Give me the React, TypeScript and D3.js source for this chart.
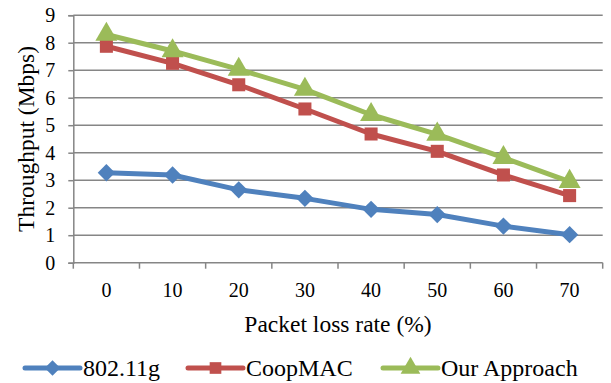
import * as d3 from 'd3'
import { useRef, useEffect } from 'react'

const categories = ['0', '10', '20', '30', '40', '50', '60', '70']
const yTicks = [0, 1, 2, 3, 4, 5, 6, 7, 8, 9]
const seriesNames = ['802.11g', 'CoopMAC', 'Our Approach']
const ieee80211g = [3.27, 3.19, 2.65, 2.34, 1.94, 1.75, 1.33, 1.02]
const coopMac = [7.87, 7.25, 6.47, 5.59, 4.68, 4.05, 3.19, 2.44]
const ourApproach = [8.3, 7.7, 7.03, 6.3, 5.38, 4.67, 3.82, 2.95]
const colors = ['#4F81BD', '#C0504D', '#9BBB59']
// the diamond is a square turned by 45 degrees
const symbols = [d3.symbolSquare, d3.symbolSquare, d3.symbolTriangle]
const symbolRotate = [45, 0, 0]
const symbolSizes = [150, 170, 210]

const width = 611
const height = 383
const margin = { top: 15.2, right: 8.3, bottom: 120.3, left: 73.3 }
const font = '"Liberation Serif", "Times New Roman", serif'

const App = () => {
  const svgRef = useRef<SVGSVGElement>(null)

  useEffect((): void => {
    const svg = d3.select(svgRef.current)
    svg.selectAll('*').remove()

    const x = d3.scaleBand<string>()
      .domain(categories)
      .range([margin.left, width - margin.right])
    const y = d3.scaleLinear()
      .domain([0, 9])
      .range([height - margin.bottom, margin.top])

    // grid
    svg.append('g')
      .selectAll('line')
      .data(yTicks.slice(1))
      .enter()
      .append('line')
      .attr('x1', margin.left)
      .attr('x2', width - margin.right)
      .attr('y1', d => y(d))
      .attr('y2', d => y(d))
      .attr('stroke', '#868686')
      .attr('stroke-width', 1.5)

    // y axis
    const yAxis = svg.append('g')
      .attr('transform', `translate(${margin.left},0)`)
      .call(d3.axisLeft(y).tickValues(yTicks).tickSize(5).tickPadding(13).tickFormat(d3.format('d')))
    yAxis.select('.domain').attr('stroke', '#868686').attr('stroke-width', 1.5)
    yAxis.selectAll('.tick line').attr('stroke', '#868686').attr('stroke-width', 1.5)
    yAxis.selectAll('text').attr('font-family', font).attr('font-size', 20).attr('fill', '#000')

    // x axis, ticks sit between categories
    const boundaries = d3.range(categories.length + 1).map(i => margin.left + i * x.step())
    const xAxisG = svg.append('g')
      .attr('transform', `translate(0,${y(0)})`)
    xAxisG.append('line')
      .attr('x1', margin.left)
      .attr('x2', width - margin.right)
      .attr('stroke', '#868686')
      .attr('stroke-width', 1.5)
    xAxisG.selectAll('line.tk')
      .data(boundaries)
      .enter()
      .append('line')
      .attr('class', 'tk')
      .attr('x1', d => d)
      .attr('x2', d => d)
      .attr('y1', 0)
      .attr('y2', 6)
      .attr('stroke', '#868686')
      .attr('stroke-width', 1.5)
    xAxisG.selectAll('text')
      .data(categories)
      .enter()
      .append('text')
      .attr('x', d => x(d)! + x.bandwidth() / 2)
      .attr('y', 34)
      .attr('text-anchor', 'middle')
      .attr('font-family', font)
      .attr('font-size', 20)
      .text(d => d)

    // titles
    svg.append('text')
      .attr('x', (margin.left + width - margin.right) / 2)
      .attr('y', 332)
      .attr('text-anchor', 'middle')
      .attr('font-family', font)
      .attr('font-size', 23.5)
      .text('Packet loss rate (%)')
    svg.append('text')
      .attr('transform', `translate(34,${(margin.top + y(0)) / 2}) rotate(-90)`)
      .attr('text-anchor', 'middle')
      .attr('font-family', font)
      .attr('font-size', 23.5)
      .text('Throughput (Mbps)')

    // series
    const allSeries = [ieee80211g, coopMac, ourApproach]
    const line = d3.line<number>()
      .x((d, i) => x(categories[i])! + x.bandwidth() / 2)
      .y(d => y(d))
    allSeries.forEach((values, s) => {
      svg.append('path')
        .datum(values)
        .attr('d', line)
        .attr('fill', 'none')
        .attr('stroke', colors[s])
        .attr('stroke-width', 5)
        .attr('stroke-linejoin', 'round')
    })
    allSeries.forEach((values, s) => {
      svg.append('g')
        .selectAll('path')
        .data(values)
        .enter()
        .append('path')
        .attr('transform', (d, i) =>
          `translate(${x(categories[i])! + x.bandwidth() / 2},${y(d)}) rotate(${symbolRotate[s]})`)
        .attr('d', d3.symbol().type(symbols[s]).size(symbolSizes[s])())
        .attr('fill', colors[s])
    })

    // legend
    const legendX = [25, 188, 383]
    const legendY = 368
    seriesNames.forEach((name, s) => {
      const g = svg.append('g').attr('transform', `translate(${legendX[s]},${legendY})`)
      g.append('line')
        .attr('x1', 0)
        .attr('x2', 55)
        .attr('stroke', colors[s])
        .attr('stroke-width', 5)
        .attr('stroke-linecap', 'round')
      g.append('path')
        .attr('transform', `translate(27.5,0) rotate(${symbolRotate[s]})`)
        .attr('d', d3.symbol().type(symbols[s]).size(symbolSizes[s] * 0.8)())
        .attr('fill', colors[s])
      g.append('text')
        .attr('x', 58)
        .attr('y', 8)
        .attr('font-family', font)
        .attr('font-size', 24)
        .text(name)
    })
  }, [])

  return (
    <svg
      ref={svgRef}
      width={width}
      height={height}
      style={{ position: 'absolute', left: 0, top: 0, background: '#fff' }}
    />
  )
}

export default App
